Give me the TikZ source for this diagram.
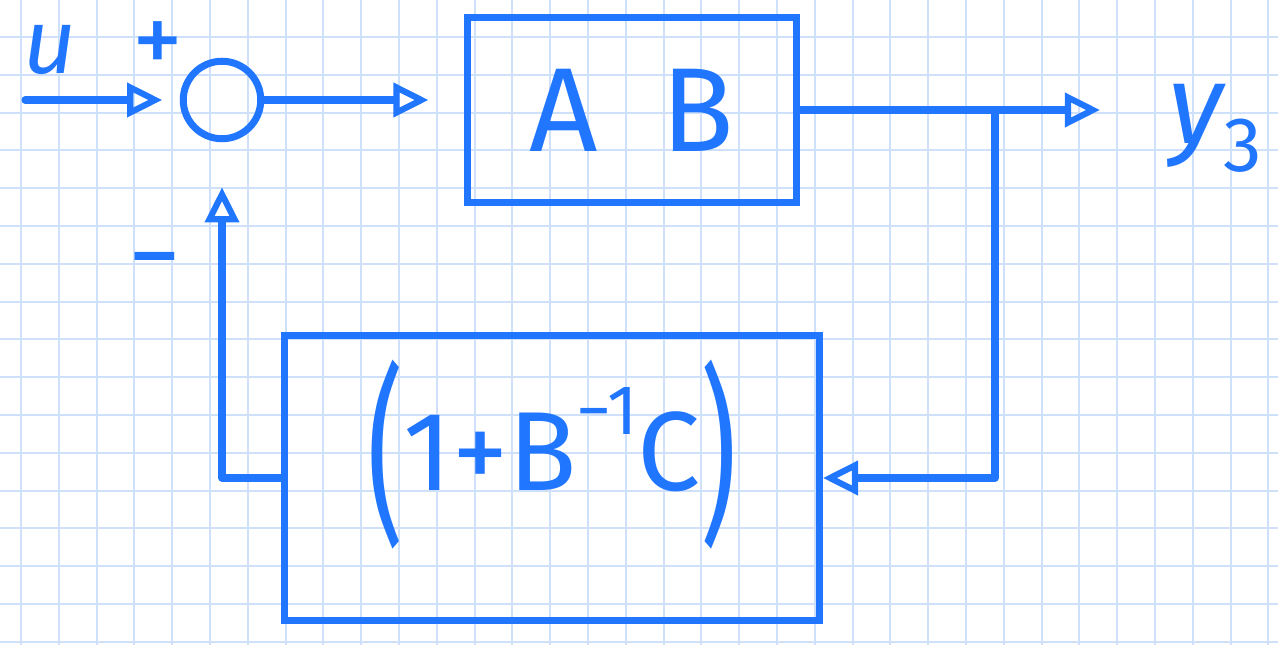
\documentclass[tikz,border=0pt]{standalone}
\usepackage{fontspec}
\setmainfont{Fira Sans}
\usetikzlibrary{arrows.meta,positioning}
\definecolor{pen}{RGB}{33,118,255}
\definecolor{gridblue}{RGB}{206,224,250}
\newcommand{\handsize}[1]{\fontsize{#1}{#1}\selectfont}
\newcommand{\bigparen}[1]{\raisebox{-0.28em}[0pt][0pt]{\scalebox{1}[1.7]{#1}}}
\begin{document}
\begin{tikzpicture}[x=0.02cm,y=-0.02cm,
    wire/.style={draw=pen, line width=4pt, line cap=round, line join=round},
    sig/.style={wire, -{Triangle[open, length=20pt, width=19pt, line width=3.5pt]}},
    blockbox/.style={draw=pen, line width=4pt, rectangle, inner sep=0pt, text=pen},
    lbl/.style={text=pen, inner sep=0pt}]
    % Paper
    \useasboundingbox (0,0) rectangle (1278,645);
    \fill[white] (0,0) rectangle (1278,645);
    \foreach \k in {0,...,33}
        \draw[gridblue, line width=1.1pt] ({21+37.8*\k},0) -- ({21+37.8*\k},645);
    \foreach \k in {1,...,17}
        \draw[gridblue, line width=1.1pt] (0,{-0.8+37.8*\k}) -- (1278,{-0.8+37.8*\k});
    % Blocks
    \node[blockbox, circle, minimum size=1.55cm] (sum) at (222,100) {};
    \node[blockbox, minimum width=6.6cm, minimum height=3.7cm, font=\handsize{68}] (ab) at (632,110) {A\ \ B};
    \node[blockbox, minimum width=10.7cm, minimum height=5.7cm, font=\handsize{64}] (fb) at (552,478)
        {\raisebox{-7pt}[0pt][0pt]{\bigparen{(}1+B\raisebox{0.5em}{\handsize{40}−1}C\bigparen{)}}};
    % Labels
    \node[lbl, font=\handsize{52}\itshape] (ulbl) at (50,50) {u};
    \node[lbl, font=\handsize{58}] (plus) at (158,48) {+};
    \node[lbl, font=\handsize{60}] (minus) at (155,272) {−};
    \node[lbl, font=\handsize{64}\itshape] (ylbl) at (1215,128) {y\raisebox{-0.25em}{\handsize{44}\upshape 3}};
    % Signals
    \coordinate (u) at (25,100);
    \coordinate (br) at (995,110);
    \coordinate (y) at (1100,110);
    \draw[sig, shorten >=0.35cm] (u) -- (sum.west);
    \draw[sig, shorten >=0.7cm] (sum.east) -- (sum.east -| ab.west);
    \draw[sig] (ab.east |- y) -- (y);
    \draw[sig] (br) |- (fb.east);
    \draw[sig, shorten >=0.9cm] (fb.west) -| (sum.south);
\end{tikzpicture}
\end{document}
